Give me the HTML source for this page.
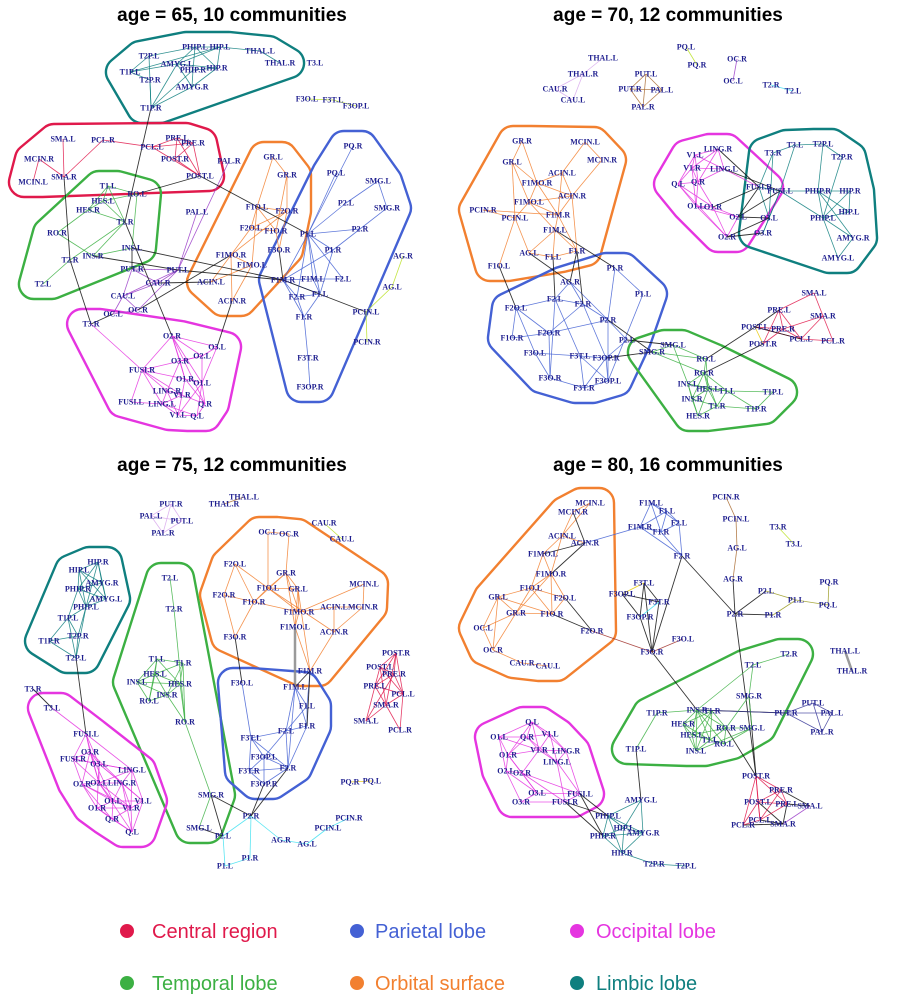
<!DOCTYPE html>
<html><head><meta charset="utf-8">
<style>
html,body{margin:0;padding:0;background:#fff;}
svg{display:block;}
.nl{font-family:"Liberation Serif",serif;font-weight:bold;font-size:8px;fill:#1f1f8f;text-anchor:middle;dominant-baseline:middle;}
.tt{font-family:"Liberation Sans",sans-serif;font-weight:bold;font-size:19px;fill:#000;text-anchor:middle;}
.lg{font-family:"Liberation Sans",sans-serif;font-size:20px;}
</style></head>
<body>
<svg id="chart" width="900" height="1000" viewBox="0 0 900 1000" xmlns="http://www.w3.org/2000/svg">
<rect x="0" y="0" width="900" height="1000" fill="#fff"/>
<text class="tt" x="232" y="21">age = 65, 10 communities</text>
<text class="tt" x="668" y="21">age = 70, 12 communities</text>
<text class="tt" x="232" y="471">age = 75, 12 communities</text>
<text class="tt" x="668" y="471">age = 80, 16 communities</text>
<g id="panels"></g>
<g>
 <g><circle cx="127" cy="931" r="7" fill="#e0194b"/><text class="lg" x="152" y="938" fill="#e0194b">Central region</text></g>
 <g><circle cx="357" cy="931" r="7" fill="#4461d4"/><text class="lg" x="375" y="938" fill="#4461d4">Parietal lobe</text></g>
 <g><circle cx="577" cy="931" r="7" fill="#e535e0"/><text class="lg" x="596" y="938" fill="#e535e0">Occipital lobe</text></g>
 <g><circle cx="127" cy="983" r="7" fill="#3cb043"/><text class="lg" x="152" y="990" fill="#3cb043">Temporal lobe</text></g>
 <g><circle cx="357" cy="983" r="7" fill="#f28030"/><text class="lg" x="375" y="990" fill="#f28030">Orbital surface</text></g>
 <g><circle cx="577" cy="983" r="7" fill="#0f7f7f"/><text class="lg" x="596" y="990" fill="#0f7f7f">Limbic lobe</text></g>
</g>
</svg>
<script>
const COL={lim:"#0f7f7f",cen:"#e0194b",tem:"#3cb043",ori:"#f28030",par:"#4461d4",occ:"#e535e0",blk:"#111",pur:"#9a3cc8",yg:"#b8e020",lav:"#d8a8ec",brn:"#a8682e",cya:"#40e0f0",yel:"#e8c800",gry:"#888",olv:"#9a9a20",red:"#a0302a",nav:"#3a3a9a"};

// ---------- Panel 1 (age 65) ----------
const nodes65=[["PHIP.L",195,47],["HIP.L",220,47],["THAL.L",260,51],["THAL.R",280,63],["T2P.L",149,56],["AMYG.L",177,64],["PHIP.R",193,70],["HIP.R",217,68],["T1P.L",130,72],["T2P.R",150,80],["AMYG.R",192,87],["T1P.R",151,108],
["T3.L",315,63],["F3O.L",307,99],["F3T.L",333,100],["F3OP.L",356,106],
["SMA.L",63,139],["PCL.R",103,140],["PRE.L",177,138],["PCL.L",152,147],["PRE.R",193,143],["MCIN.R",39,159],["POST.R",175,159],["SMA.R",64,177],["MCIN.L",33,182],["POST.L",200,176],
["T1.L",108,186],["RO.L",137,194],["HES.L",103,201],["HES.R",88,210],["T1.R",125,222],["RO.R",57,233],["INS.L",132,248],["INS.R",93,256],["T2.R",70,260],["T2.L",43,284],
["PAL.R",229,161],["PAL.L",197,212],["PUT.R",132,269],["PUT.L",178,270],["CAU.R",158,283],["CAU.L",123,296],["OC.L",113,314],["OC.R",138,310],["T3.R",91,324],
["GR.L",273,157],["GR.R",287,175],["F1O.L",257,207],["F2O.R",287,211],["F2O.L",251,228],["F1O.R",276,231],["F3O.R",279,250],["F1MO.R",231,255],["F1MO.L",252,265],["ACIN.L",211,282],["ACIN.R",232,301],
["PQ.R",353,146],["PQ.L",336,173],["SMG.L",378,181],["P2.L",346,203],["SMG.R",387,208],["P1.L",308,234],["P2.R",360,229],["P1.R",333,250],["F1M.R",283,280],["F1M.L",313,279],["F2.L",343,279],["F2.R",297,297],["F1.L",320,294],["F1.R",304,317],["F3T.R",308,358],["F3OP.R",310,387],
["AG.R",403,256],["AG.L",392,287],["PCIN.L",366,312],["PCIN.R",367,342],
["O2.R",172,336],["O3.L",217,347],["O2.L",202,356],["O3.R",180,361],["FUSI.R",142,370],["O1.R",185,379],["O1.L",202,383],["LING.R",167,391],["V1.R",182,395],["FUSI.L",131,402],["LING.L",162,404],["Q.R",205,404],["V1.L",178,415],["Q.L",197,416]];
const hulls65=[["lim","PHIP.L HIP.L THAL.L THAL.R T2P.L AMYG.L PHIP.R HIP.R T1P.L T2P.R AMYG.R T1P.R"],["cen","SMA.L PCL.R PRE.L PCL.L PRE.R MCIN.R POST.R SMA.R MCIN.L POST.L"],["tem","T1.L RO.L HES.L HES.R T1.R RO.R INS.L INS.R T2.R T2.L"],["ori","GR.L GR.R F1O.L F2O.R F2O.L F1O.R F3O.R F1MO.R F1MO.L ACIN.L ACIN.R"],["par","PQ.R PQ.L SMG.L P2.L SMG.R P1.L P2.R P1.R F1M.R F1M.L F2.L F2.R F1.L F1.R F3T.R F3OP.R"],["occ","T3.R O2.R O3.L O2.L O3.R FUSI.R O1.R O1.L LING.R V1.R FUSI.L LING.L Q.R V1.L Q.L"]];
const edges65=[["lim","PHIP.L-HIP.L PHIP.L-T2P.L PHIP.L-AMYG.L PHIP.L-PHIP.R PHIP.L-HIP.R HIP.L-HIP.R HIP.L-AMYG.L HIP.L-T1P.L HIP.L-THAL.L THAL.L-THAL.R T2P.L-T1P.R T2P.L-T1P.L T1P.L-T2P.R T1P.L-AMYG.L T2P.R-T1P.R PHIP.R-HIP.R PHIP.R-AMYG.R AMYG.L-AMYG.R HIP.R-AMYG.R T1P.R-AMYG.R T1P.R-PHIP.R T1P.R-AMYG.L AMYG.L-HIP.R"],
["yg","F3O.L-F3T.L F3T.L-F3OP.L AG.R-AG.L AG.L-PCIN.L PCIN.L-PCIN.R"],
["cen","SMA.L-SMA.R PCL.R-SMA.R MCIN.R-MCIN.L MCIN.R-SMA.R PCL.R-PCL.L PCL.L-PRE.L PCL.L-PRE.R PRE.L-PRE.R PRE.L-POST.R PRE.R-POST.R PRE.R-POST.L PRE.L-POST.L POST.R-POST.L PCL.L-POST.L"],
["tem","T1.L-RO.L T1.L-T1.R T1.L-HES.L T1.L-HES.R HES.L-HES.R HES.L-T1.R HES.R-T1.R HES.R-RO.R RO.R-INS.R T1.R-INS.R INS.L-INS.R INS.L-RO.L T2.R-T2.L T2.R-T1.R HES.L-RO.L"],
["pur","PAL.R-PUT.L PAL.L-PUT.L PUT.R-PUT.L PUT.R-CAU.R PUT.L-CAU.R PUT.L-CAU.L PUT.L-OC.R CAU.R-CAU.L CAU.L-OC.L CAU.L-OC.R OC.L-OC.R PUT.R-CAU.L"],
["ori","GR.L-GR.R GR.L-F1O.L GR.R-F1O.R GR.R-F2O.R F1O.L-F2O.R F1O.L-F1O.R F1O.L-F2O.L F2O.L-F1O.R F2O.L-F1MO.R F2O.R-F3O.R F2O.R-F2O.L F1O.R-F3O.R F1MO.R-F1MO.L F1MO.R-ACIN.L F1MO.R-ACIN.R F1MO.L-ACIN.L F1MO.L-ACIN.R F1O.L-F1MO.L F2O.R-F1MO.R"],
["par","PQ.R-P1.L PQ.L-P1.L SMG.L-P2.L SMG.L-SMG.R P2.L-P1.L SMG.R-P2.R P2.R-P1.L P2.R-P1.R P1.L-P1.R P1.L-F1M.R P1.L-F1M.L P1.L-F2.L P1.L-F2.R P1.L-F1.L P1.R-F1M.R P1.R-F1.L F1M.R-F1M.L F1M.L-F2.L F1M.R-F2.R F1M.R-F1.R F2.R-F1.L F2.R-F1.R F1.L-F1.R F1.L-F1M.L F1.R-F3T.R F3T.R-F3OP.R F1M.R-F1.L"],
["occ","T3.R-FUSI.R O2.R-O3.L O2.R-O2.L O2.R-O3.R O2.R-FUSI.R O2.R-O1.R O2.R-O1.L O2.R-Q.R O3.L-O2.L O2.L-O3.R O2.L-O1.L O2.L-FUSI.R O3.R-O1.R O3.R-LING.R FUSI.R-FUSI.L FUSI.R-LING.R FUSI.R-LING.L FUSI.R-V1.R FUSI.R-O1.R O1.R-O1.L O1.R-V1.R O1.R-Q.R O1.L-Q.R O1.L-V1.L O1.L-Q.L LING.R-LING.L LING.R-V1.R LING.R-V1.L V1.R-Q.R V1.R-V1.L V1.R-LING.L LING.L-FUSI.L LING.L-V1.L LING.L-Q.L V1.L-Q.L Q.R-Q.L O3.L-O1.L"],
["blk","T1P.R-T1.R POST.L-RO.L POST.L-P1.L SMA.R-T2.R T2.R-T3.R T1.R-O2.R INS.R-PUT.L INS.L-F1M.R PUT.L-F1M.R CAU.R-ACIN.L OC.L-T3.R ACIN.R-O3.L F1MO.R-OC.R F3O.R-F1M.R F1M.R-PCIN.L INS.L-PUT.R"]];

// ---------- Panel 2 (age 70) ----------
const nodes70=[["THAL.L",603,58],["THAL.R",583,74],["CAU.R",555,89],["CAU.L",573,100],["PUT.L",646,74],["PUT.R",630,89],["PAL.L",662,90],["PAL.R",643,107],["PQ.L",686,47],["PQ.R",697,65],["OC.R",737,59],["OC.L",733,81],["T2.R",771,85],["T2.L",793,91],
["GR.R",522,141],["MCIN.L",585,142],["GR.L",512,162],["MCIN.R",602,160],["ACIN.L",562,173],["F1MO.R",537,183],["ACIN.R",572,196],["F1MO.L",529,202],["PCIN.R",483,210],["PCIN.L",515,218],["F1M.R",558,215],["F1M.L",555,230],["AG.L",529,253],["F1.L",553,257],["F1.R",577,251],["F1O.L",499,266],
["P1.R",615,268],["AG.R",570,282],["P1.L",643,294],["F2.L",555,299],["F2.R",583,304],["F2O.L",516,308],["P2.R",608,320],["F2O.R",549,333],["F1O.R",512,338],["P2.L",627,340],["F3O.L",535,353],["F3T.L",580,356],["F3OP.R",606,358],["F3O.R",550,378],["F3T.R",584,388],["F3OP.L",608,381],
["SMG.L",673,345],["SMG.R",652,352],["RO.L",706,359],["RO.R",704,373],["INS.L",688,384],["HES.L",708,389],["T1.L",727,391],["T1P.L",773,392],["INS.R",692,399],["T1.R",717,406],["T1P.R",756,409],["HES.R",698,416],
["SMA.L",814,293],["PRE.L",779,310],["SMA.R",823,316],["POST.L",755,327],["PRE.R",783,329],["PCL.L",801,339],["PCL.R",833,341],["POST.R",763,344],
["LING.R",718,149],["V1.L",695,155],["V1.R",692,168],["LING.L",724,169],["Q.L",678,184],["Q.R",698,182],["FUSI.R",759,187],["O1.L",696,206],["O1.R",713,207],["O2.L",738,217],["O2.R",727,237],
["T3.L",795,145],["T2P.L",823,144],["T3.R",773,153],["T2P.R",842,157],["FUSI.L",780,191],["PHIP.R",818,191],["HIP.R",850,191],["HIP.L",849,212],["PHIP.L",823,218],["O3.L",769,218],["O3.R",763,233],["AMYG.R",853,238],["AMYG.L",838,258]];
const hulls70=[["ori","GR.R MCIN.L GR.L MCIN.R ACIN.L F1MO.R ACIN.R F1MO.L PCIN.R PCIN.L F1M.R F1M.L AG.L F1.L F1.R F1O.L"],["par","P1.R AG.R P1.L F2.L F2.R F2O.L P2.R F2O.R F1O.R P2.L F3O.L F3T.L F3OP.R F3O.R F3T.R F3OP.L"],["tem","SMG.L SMG.R RO.L RO.R INS.L HES.L T1.L T1P.L INS.R T1.R T1P.R HES.R"],["occ","LING.R V1.L V1.R LING.L Q.L Q.R FUSI.R O1.L O1.R O2.L O2.R"],["lim","T3.L T2P.L T3.R T2P.R FUSI.L PHIP.R HIP.R HIP.L PHIP.L O3.L O3.R AMYG.R AMYG.L"]];
const edges70=[["lav","THAL.L-THAL.R THAL.R-CAU.R THAL.R-CAU.L CAU.R-CAU.L"],["brn","PUT.L-PUT.R PUT.L-PAL.L PUT.L-PAL.R PUT.R-PAL.L PUT.R-PAL.R PAL.L-PAL.R"],["yg","PQ.L-PQ.R"],["pur","OC.R-OC.L"],["cya","T2.R-T2.L"],
["ori","GR.R-GR.L GR.R-F1MO.R GR.L-F1MO.R GR.L-F1MO.L MCIN.L-MCIN.R MCIN.L-ACIN.L MCIN.R-ACIN.R ACIN.L-ACIN.R ACIN.L-F1MO.R ACIN.L-F1M.R F1MO.R-F1MO.L F1MO.R-F1M.R F1MO.R-ACIN.R F1MO.L-F1M.R F1MO.L-PCIN.L F1MO.L-ACIN.R PCIN.R-PCIN.L PCIN.R-F1M.R PCIN.L-AG.L PCIN.L-F1O.L F1M.R-F1M.L F1M.R-ACIN.R F1M.L-F1.L F1M.L-F1.R F1M.L-AG.L F1.L-F1.R F1.L-AG.L F1M.R-F1.R F1MO.L-F1M.L GR.L-PCIN.L ACIN.R-F1.R"],
["par","P1.R-P1.L P1.R-P2.R F2.L-F2.R F2.L-F2O.L F2.L-F3T.L F2.R-P2.R F2.R-F2O.R F2.R-F3OP.R AG.R-F2.R AG.R-F2.L AG.R-P2.R F2O.L-F3O.L F2O.L-F2O.R F2O.R-F1O.R F2O.R-P2.R F2O.R-F3O.R F1O.R-F2O.L P2.R-P2.L P2.R-F3OP.L P1.L-F3OP.L P2.L-F3OP.R F3O.L-F3T.L F3O.L-F3O.R F3T.L-F3OP.R F3T.L-F3T.R F3T.L-F3OP.L F3OP.R-F3T.R F3OP.R-F3OP.L F3T.R-F3O.R F3T.R-F3OP.L F2.L-F3O.R"],
["tem","SMG.L-SMG.R SMG.L-RO.L SMG.L-INS.L SMG.R-RO.L SMG.R-RO.R RO.L-RO.R RO.L-HES.L RO.R-INS.L RO.R-HES.L RO.R-T1.L RO.R-INS.R RO.R-T1.R INS.L-HES.L INS.L-INS.R INS.L-T1.L INS.L-HES.R HES.L-T1.L HES.L-INS.R HES.L-T1.R HES.L-HES.R T1.L-T1P.L T1.L-T1.R T1.L-T1P.R INS.R-T1.R INS.R-HES.R T1.R-T1P.R T1.R-HES.R T1P.L-T1P.R"],
["cen","SMA.L-PRE.L SMA.L-SMA.R SMA.R-PRE.R SMA.R-PCL.L SMA.R-PCL.R PRE.L-PRE.R PRE.L-POST.R PRE.L-PCL.L POST.L-PRE.R POST.L-PCL.L PRE.R-PCL.L PRE.R-POST.R PCL.L-PCL.R"],
["yel","POST.L-POST.R"],
["occ","LING.R-V1.L LING.R-V1.R LING.R-LING.L LING.R-Q.R V1.L-V1.R V1.L-Q.L V1.L-Q.R V1.L-LING.L V1.R-LING.L V1.R-Q.L V1.R-Q.R V1.R-O1.L Q.L-Q.R Q.L-O1.L Q.L-O1.R Q.L-O2.R Q.R-O1.L Q.R-O1.R LING.L-Q.R O1.L-O1.R O1.L-O2.L O1.L-O2.R O1.R-O2.L O1.R-O2.R O2.L-O2.R LING.L-FUSI.R"],
["lim","T3.L-T2P.L T3.L-T3.R T3.L-FUSI.L T3.R-FUSI.R T3.R-O3.L T2P.L-T2P.R T2P.L-PHIP.R T2P.R-PHIP.L FUSI.R-FUSI.L FUSI.R-O3.L FUSI.L-PHIP.R FUSI.L-O3.L FUSI.L-O3.R PHIP.R-HIP.R PHIP.R-HIP.L PHIP.R-PHIP.L PHIP.R-AMYG.R HIP.R-HIP.L HIP.R-PHIP.L PHIP.L-HIP.L PHIP.L-AMYG.R PHIP.L-AMYG.L AMYG.R-AMYG.L FUSI.L-PHIP.L O3.L-O3.R"],
["blk","F1O.L-F2O.L F1M.L-P1.R AG.L-AG.R F1.L-F2.L F1.R-F2.R F1.R-AG.R P2.R-SMG.R P2.L-SMG.L F3OP.R-SMG.R RO.L-POST.L RO.R-POST.R POST.L-PCL.L PRE.L-POST.L LING.R-FUSI.R LING.L-FUSI.L O1.R-FUSI.R O2.L-FUSI.L O2.L-O3.L O2.R-O3.R O2.R-O3.L O2.L-FUSI.R"]];

// ---------- Panel 3 (age 75) ----------
const nodes75=[["THAL.L",244,497],["THAL.R",224,504],["PUT.R",171,504],["PAL.L",151,516],["PUT.L",182,521],["PAL.R",163,533],["CAU.R",324,523],["CAU.L",342,539],
["HIP.R",98,562],["HIP.L",79,570],["AMYG.R",102,583],["PHIP.R",78,589],["AMYG.L",106,599],["PHIP.L",86,607],["T1P.L",68,618],["T2P.R",78,636],["T1P.R",49,641],["T2P.L",76,658],
["T2.L",170,578],["T2.R",174,609],["T1.L",157,659],["T1.R",183,663],["HES.L",155,674],["INS.L",137,682],["HES.R",180,684],["INS.R",167,695],["RO.L",149,701],["RO.R",185,722],["SMG.R",211,795],["SMG.L",199,828],
["OC.L",268,532],["OC.R",289,534],["F2O.L",235,564],["GR.R",286,573],["F1O.L",268,588],["GR.L",298,589],["MCIN.L",364,584],["F2O.R",224,595],["F1O.R",254,602],["ACIN.L",334,607],["MCIN.R",363,607],["F1MO.R",299,612],["F1MO.L",295,627],["ACIN.R",334,632],["F3O.R",235,637],["F1M.R",310,671],
["F3O.L",242,683],["F1M.L",295,687],["F1.L",307,706],["F1.R",307,726],["F2.L",286,731],["F3T.L",251,738],["F3OP.L",264,757],["F2.R",288,768],["F3T.R",249,771],["F3OP.R",264,784],
["POST.R",396,653],["POST.L",380,667],["PRE.R",394,674],["PRE.L",375,686],["PCL.L",403,694],["SMA.R",386,705],["SMA.L",366,721],["PCL.R",400,730],
["PQ.R",350,782],["PQ.L",372,781],["P2.R",251,816],["P2.L",223,836],["AG.R",281,840],["AG.L",307,844],["PCIN.L",328,828],["PCIN.R",349,818],["P1.R",250,858],["P1.L",225,866],
["T3.R",33,689],["T3.L",52,708],
["FUSI.L",86,734],["O3.R",90,752],["FUSI.R",73,759],["O3.L",99,764],["LING.L",132,770],["O2.R",82,784],["O2.L",99,783],["LING.R",122,783],["O1.L",113,801],["V1.L",143,801],["O1.R",97,808],["V1.R",131,808],["Q.R",112,819],["Q.L",132,832]];
const hulls75=[["lim","HIP.R HIP.L AMYG.R PHIP.R AMYG.L PHIP.L T1P.L T2P.R T1P.R T2P.L"],["tem","T2.L T2.R T1.L T1.R HES.L INS.L HES.R INS.R RO.L RO.R SMG.R SMG.L"],["ori","OC.L OC.R F2O.L GR.R F1O.L GR.L MCIN.L F2O.R F1O.R ACIN.L MCIN.R F1MO.R F1MO.L ACIN.R F3O.R F1M.R"],["par","F3O.L F1M.L F1.L F1.R F2.L F3T.L F3OP.L F2.R F3T.R F3OP.R"],["occ","T3.L FUSI.L O3.R FUSI.R O3.L LING.L O2.R O2.L LING.R O1.L V1.L O1.R V1.R Q.R Q.L"]];
const edges75=[["lav","PUT.R-PAL.L PUT.R-PUT.L PUT.R-PAL.R PAL.L-PUT.L PAL.L-PAL.R PUT.L-PAL.R"],["brn","THAL.L-THAL.R"],["yg","CAU.R-CAU.L"],["yel","PQ.R-PQ.L"],
["lim","HIP.R-HIP.L HIP.R-AMYG.R HIP.R-PHIP.R HIP.R-PHIP.L HIP.R-AMYG.L HIP.L-AMYG.R HIP.L-PHIP.R HIP.L-PHIP.L HIP.L-AMYG.L AMYG.R-PHIP.R AMYG.R-AMYG.L AMYG.R-PHIP.L PHIP.R-AMYG.L PHIP.R-PHIP.L PHIP.R-T1P.L AMYG.L-PHIP.L PHIP.L-T1P.L PHIP.L-T2P.R PHIP.L-T2P.L T1P.L-T2P.R T1P.L-T1P.R T1P.L-T2P.L T2P.R-T1P.R T2P.R-T2P.L T1P.R-T2P.L"],
["tem","T2.L-T2.R T2.R-RO.R T1.L-T1.R T1.L-HES.L T1.L-INS.L T1.L-HES.R T1.L-RO.L T1.R-HES.L T1.R-HES.R T1.R-INS.R T1.R-RO.R HES.L-INS.L HES.L-HES.R HES.L-INS.R HES.L-RO.L INS.L-RO.L INS.L-HES.R INS.L-INS.R HES.R-INS.R HES.R-RO.R INS.R-RO.L INS.R-RO.R RO.R-SMG.R SMG.R-SMG.L"],
["ori","OC.L-OC.R OC.L-F1O.L OC.R-GR.R F2O.L-F2O.R F2O.L-F1O.R F2O.L-F1O.L GR.R-F1O.L GR.R-GR.L GR.R-F1O.R GR.R-F1MO.R GR.R-F1MO.L F1O.L-GR.L F1O.L-F1O.R F1O.L-F1MO.R F1O.L-ACIN.R F2O.R-F1O.R F2O.R-F3O.R F1O.R-F3O.R F1O.R-F1MO.R GR.L-F1MO.R GR.L-F1MO.L MCIN.L-MCIN.R MCIN.L-F1MO.R MCIN.R-ACIN.L MCIN.R-ACIN.R ACIN.L-ACIN.R ACIN.L-F1MO.R F1MO.R-F1MO.L ACIN.R-F1M.R F1MO.L-F1M.R GR.L-F1M.R"],
["par","F1M.L-F1.L F1M.L-F1.R F1M.L-F2.L F1M.R-F1.L F1.L-F1.R F1.L-F2.L F1.R-F2.L F1.R-F2.R F2.L-F2.R F2.L-F3T.L F2.L-F3OP.L F3O.L-F3T.L F3T.L-F3OP.L F3T.L-F3T.R F3T.L-F2.R F3OP.L-F3T.R F3OP.L-F3OP.R F3OP.L-F2.R F3T.R-F2.R F3T.R-F3OP.R F2.R-F3OP.R F1M.L-F2.R"],
["cen","POST.R-POST.L POST.R-PRE.R POST.R-PRE.L POST.R-PCL.L POST.R-SMA.R POST.L-PRE.R POST.L-PRE.L POST.L-SMA.R POST.L-PCL.L PRE.R-PRE.L PRE.R-PCL.L PRE.R-SMA.L PRE.L-SMA.R PRE.L-SMA.L PRE.L-PCL.L PCL.L-SMA.R PCL.L-PCL.R SMA.R-SMA.L SMA.R-PCL.R"],
["occ","T3.L-FUSI.L FUSI.L-O3.R FUSI.L-FUSI.R FUSI.L-O3.L FUSI.L-LING.L FUSI.L-O2.L O3.R-FUSI.R O3.R-O3.L O3.R-O2.R O3.R-O2.L O3.R-LING.R O3.R-O1.L FUSI.R-O3.L FUSI.R-O2.R FUSI.R-O2.L FUSI.R-LING.L O3.L-LING.L O3.L-O2.L O3.L-LING.R O3.L-V1.L O3.L-O1.R LING.L-LING.R LING.L-V1.L LING.L-O2.L LING.L-V1.R O2.R-O2.L O2.R-O1.L O2.R-O1.R O2.R-Q.R O2.R-V1.R O2.L-LING.R O2.L-O1.L O2.L-V1.R O2.L-Q.L LING.R-V1.L LING.R-O1.L LING.R-V1.R LING.R-Q.L O1.L-V1.L O1.L-O1.R O1.L-V1.R O1.L-Q.R V1.L-V1.R V1.L-Q.L O1.R-V1.R O1.R-Q.R O1.R-Q.L V1.R-Q.R V1.R-Q.L Q.R-Q.L"],
["cya","P2.R-P2.L P2.R-AG.R P2.R-P1.R P2.L-P1.L P1.L-P1.R AG.R-AG.L AG.L-PCIN.L PCIN.L-PCIN.R"],
["blk","T3.R-T3.L T2P.L-FUSI.L F3O.R-F3O.L F1M.R-F1M.L F1M.R-F1.R SMG.R-P2.R SMG.R-P2.L SMG.L-P2.L P2.R-F3OP.R P2.R-F2.R"],
["gry","F1MO.L-F1M.L"]];

// ---------- Panel 4 (age 80) ----------
const nodes80=[["MCIN.L",590,503],["MCIN.R",573,512],["ACIN.L",562,536],["ACIN.R",585,543],["F1MO.L",543,554],["F1MO.R",551,574],["F1O.L",531,588],["GR.L",498,597],["F2O.L",565,598],["GR.R",516,613],["F1O.R",552,614],["OC.L",483,628],["F2O.R",592,631],["OC.R",493,650],["CAU.R",522,663],["CAU.L",548,666],
["F1M.L",651,503],["F1.L",667,511],["F2.L",679,523],["F1M.R",640,527],["F1.R",661,532],["F2.R",682,556],
["F3T.L",644,583],["F3OP.L",622,594],["F3T.R",659,602],["F3OP.R",640,617],["F3O.L",683,639],["F3O.R",652,652],
["PCIN.R",726,497],["PCIN.L",736,519],["AG.L",737,548],["AG.R",733,579],["P2.R",735,614],["P2.L",766,591],["P1.L",796,600],["PQ.R",829,582],["PQ.L",828,605],["P1.R",773,615],["T3.R",778,527],["T3.L",794,544],["THAL.L",845,651],["THAL.R",852,671],
["T2.R",789,654],["T2.L",753,665],["SMG.R",749,696],["T1P.R",657,713],["INS.R",697,710],["T1.R",712,711],["HES.R",683,724],["RO.R",726,728],["SMG.L",752,728],["HES.L",692,735],["T1.L",710,740],["RO.L",724,744],["INS.L",696,751],["T1P.L",636,749],
["PUT.L",813,703],["PUT.R",786,713],["PAL.L",832,713],["PAL.R",822,732],
["Q.L",532,722],["O1.L",499,737],["Q.R",527,737],["V1.L",550,734],["O1.R",508,755],["V1.R",539,750],["LING.R",566,751],["LING.L",557,762],["O2.L",506,771],["O2.R",522,773],["O3.L",537,793],["FUSI.L",580,794],["O3.R",521,802],["FUSI.R",565,802],
["AMYG.L",641,800],["PHIP.L",608,816],["HIP.L",624,828],["AMYG.R",643,833],["PHIP.R",603,836],["HIP.R",622,853],["T2P.R",654,864],["T2P.L",686,866],
["POST.R",756,776],["PRE.R",781,790],["POST.L",758,802],["PRE.L",787,804],["SMA.L",810,806],["PCL.L",760,820],["PCL.R",743,825],["SMA.R",783,824]];
const hulls80=[["ori","MCIN.L MCIN.R ACIN.L ACIN.R F1MO.L F1MO.R F1O.L GR.L F2O.L GR.R F1O.R OC.L F2O.R OC.R CAU.R CAU.L"],["occ","Q.L O1.L Q.R V1.L O1.R V1.R LING.R LING.L O2.L O2.R O3.L FUSI.L O3.R FUSI.R"],["tem","T2.R T2.L SMG.R T1P.R INS.R T1.R HES.R RO.R SMG.L HES.L T1.L RO.L INS.L T1P.L"]];
const edges80=[["ori","MCIN.L-MCIN.R MCIN.R-ACIN.L MCIN.L-ACIN.L ACIN.L-ACIN.R ACIN.L-F1MO.L ACIN.L-F1MO.R F1MO.L-F1MO.R F1MO.L-F1O.L F1MO.R-F1O.L F1MO.R-F2O.L F1MO.R-F1O.R F1MO.R-GR.R F1O.L-GR.L F1O.L-GR.R F1O.L-F1O.R F1O.L-F2O.L GR.L-GR.R GR.L-OC.L GR.L-F1O.R GR.R-F1O.R GR.R-OC.L GR.R-OC.R F2O.L-F1O.R OC.L-OC.R OC.R-CAU.R CAU.R-CAU.L GR.L-OC.R"],
["par","F1M.L-F1.L F1M.L-F1M.R F1M.L-F1.R F1M.L-F2.L F1.L-F2.L F1.L-F1M.R F1.L-F1.R F2.L-F1.R F2.L-F2.R F1M.R-F1.R F1M.R-F2.R F1.R-F2.R F1M.R-ACIN.R"],
["blk","F3T.L-F3T.R F3T.L-F3OP.R F3OP.L-F3T.R F3OP.L-F3OP.R F3T.R-F3O.R F3OP.R-F3O.R F3T.L-F3O.R F2.R-F3O.R F2.R-P2.R F3O.R-INS.R F2O.L-F2O.R F1O.R-F2O.R ACIN.R-F1MO.L MCIN.R-ACIN.R F1MO.R-ACIN.R AG.R-P2.R P2.R-P2.L P2.R-P1.R P2.R-POST.R INS.R-PUT.R SMG.R-POST.R RO.R-POST.R T1P.L-AMYG.L FUSI.L-PHIP.R FUSI.L-PHIP.L FUSI.R-PHIP.R FUSI.R-PHIP.L PRE.R-SMA.L PRE.L-SMA.L PRE.L-SMA.R PCL.L-SMA.R PCL.R-SMA.R POST.L-SMA.R"],
["yel","F3T.L-F3OP.L"],["cya","F3T.R-F3OP.R"],["red","F2O.R-F3O.R F3O.L-F3O.R"],
["brn","PCIN.R-PCIN.L PCIN.L-AG.L AG.L-AG.R"],["olv","P2.L-P1.L P1.L-PQ.L P1.L-P1.R PQ.R-PQ.L"],["yg","T3.R-T3.L"],["gry","THAL.L-THAL.R"],
["tem","T2.R-T2.L T2.L-INS.R T2.L-SMG.R SMG.R-SMG.L SMG.R-RO.R T1P.R-INS.R T1P.R-T1P.L INS.R-T1.R INS.R-HES.R INS.R-RO.R INS.R-HES.L INS.R-T1.L INS.R-RO.L INS.R-INS.L T1.R-HES.R T1.R-RO.R T1.R-HES.L T1.R-T1.L T1.R-INS.L HES.R-HES.L HES.R-T1.L HES.R-INS.L RO.R-SMG.L RO.R-HES.L RO.R-T1.L RO.R-RO.L HES.L-T1.L HES.L-INS.L T1.L-RO.L T1.L-INS.L RO.L-SMG.L SMG.L-INS.L"],
["nav","PUT.L-PUT.R PUT.L-PAL.L PUT.L-PAL.R PUT.R-PAL.L PUT.R-PAL.R PAL.L-PAL.R INS.R-PUT.R"],
["occ","Q.L-O1.L Q.L-Q.R Q.L-V1.L Q.L-O1.R Q.L-V1.R Q.L-LING.R O1.L-Q.R O1.L-O1.R O1.L-O2.L O1.L-V1.R Q.R-V1.L Q.R-O1.R Q.R-V1.R Q.R-LING.L V1.L-V1.R V1.L-LING.R V1.L-LING.L O1.R-V1.R O1.R-O2.L O1.R-O2.R O1.R-O3.L V1.R-LING.R V1.R-LING.L V1.R-O2.R LING.R-LING.L LING.R-FUSI.L LING.L-FUSI.L LING.L-FUSI.R O2.L-O2.R O2.L-O3.L O2.L-O3.R O2.R-O3.L O2.R-FUSI.R O3.L-O3.R O3.L-FUSI.L O3.R-FUSI.R FUSI.L-FUSI.R O2.R-FUSI.L"],
["lim","AMYG.L-PHIP.L AMYG.L-HIP.L AMYG.L-AMYG.R PHIP.L-HIP.L PHIP.L-PHIP.R PHIP.L-AMYG.R PHIP.L-HIP.R HIP.L-AMYG.R HIP.L-PHIP.R HIP.L-HIP.R AMYG.R-PHIP.R AMYG.R-HIP.R PHIP.R-HIP.R HIP.R-T2P.R T2P.R-T2P.L"],
["cen","POST.R-PRE.R POST.R-POST.L POST.R-PRE.L POST.R-PCL.L POST.R-PCL.R PRE.R-POST.L PRE.R-PRE.L PRE.R-PCL.L POST.L-PRE.L POST.L-PCL.L POST.L-PCL.R PRE.L-PCL.L PCL.L-PCL.R"],
["pur","SMA.L-SMA.R"]];

const panels=[["age-65",nodes65,hulls65,edges65],["age-70",nodes70,hulls70,edges70],["age-75",nodes75,hulls75,edges75],["age-80",nodes80,hulls80,edges80]];

const NS="http://www.w3.org/2000/svg";
function mk(tag,attrs,parent){const e=document.createElementNS(NS,tag);for(const k in attrs)e.setAttribute(k,attrs[k]);parent.appendChild(e);return e;}
function hullPts(pts){pts=pts.slice().sort((a,b)=>a[0]-b[0]||a[1]-b[1]);const cr=(o,a,b)=>(a[0]-o[0])*(b[1]-o[1])-(a[1]-o[1])*(b[0]-o[0]);const lo=[],up=[];for(const p of pts){while(lo.length>=2&&cr(lo[lo.length-2],lo[lo.length-1],p)<=0)lo.pop();lo.push(p);}for(let i=pts.length-1;i>=0;i--){const p=pts[i];while(up.length>=2&&cr(up[up.length-2],up[up.length-1],p)<=0)up.pop();up.push(p);}up.pop();lo.pop();return lo.concat(up);}
function hullPath(h,r){let a=0;for(let i=0;i<h.length;i++){const p=h[i],q=h[(i+1)%h.length];a+=p[0]*q[1]-q[0]*p[1];}if(a<0)h=h.slice().reverse();const n=h.length,N=[];for(let i=0;i<n;i++){const p=h[i],q=h[(i+1)%n];const dx=q[0]-p[0],dy=q[1]-p[1],l=Math.hypot(dx,dy)||1;N.push([dy/l,-dx/l]);}let d="";for(let i=0;i<n;i++){const p=h[i],q=h[(i+1)%n],m=N[i],m2=N[(i+1)%n];const s=[p[0]+r*m[0],p[1]+r*m[1]],e=[q[0]+r*m[0],q[1]+r*m[1]],e2=[q[0]+r*m2[0],q[1]+r*m2[1]];d+=(i===0?"M":"L")+s[0].toFixed(1)+","+s[1].toFixed(1)+"L"+e[0].toFixed(1)+","+e[1].toFixed(1)+"A"+r+","+r+" 0 0 1 "+e2[0].toFixed(1)+","+e2[1].toFixed(1);}return d+"Z";}

const root=document.getElementById("panels");
for(const [pname,nodes,hulls,edges] of panels){
  const g=mk("g",{},root);
  
  
  const pos={};nodes.forEach(n=>pos[n[0]]=[n[1],n[2]]);
  for(const [c,mem] of hulls){
    const pts=[];mem.split(" ").forEach(m=>{const p=pos[m];if(p){pts.push([p[0]-9,p[1]]);pts.push([p[0]+9,p[1]]);}});
    const path=mk("path",{d:hullPath(hullPts(pts),15),fill:"none",stroke:COL[c],"stroke-width":2.4},g);
    
    
  }
  for(const [c,list] of edges){
    list.split(" ").forEach(pr=>{const [a,b]=pr.split("-");const p=pos[a],q=pos[b];if(!p||!q)return;
      const ln=mk("line",{x1:p[0],y1:p[1],x2:q[0],y2:q[1],stroke:COL[c],"stroke-width":c==="gry"?2.5:(c==="blk"?0.9:0.8),"stroke-opacity":0.85},g);
      
      
    });
  }
  for(const n of nodes){
    const t=mk("text",{x:n[1],y:n[2]+0.5,"class":"nl"},g);t.textContent=n[0];
    
    
  }
}
</script>
</body></html>
